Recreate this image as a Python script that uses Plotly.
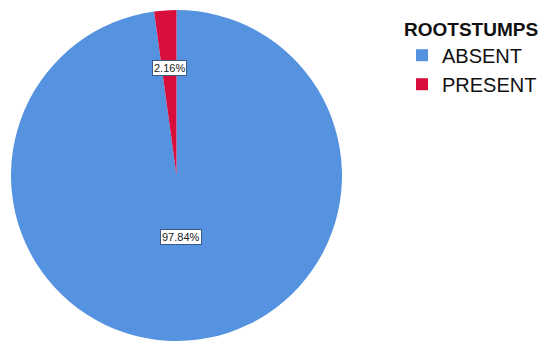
import math
import plotly.graph_objects as go

# ---- data ----
categories = ["ABSENT", "PRESENT"]
percentages = [97.84, 2.16]
legend_title = "ROOTSTUMPS"

# ---- style ----
colors = ["#5593E1", "#D80E3C"]
label_radius_frac = [0.37, 0.65]   # where each percentage box sits along its slice
W, H = 545, 342
dom_x = [8 / W, 345 / W]
dom_y = [1 - 341 / H, 1 - 10 / H]

fig = go.Figure(go.Pie(
    labels=categories,
    values=percentages,
    marker=dict(colors=colors, line=dict(width=0)),
    sort=False,
    direction="clockwise",
    rotation=0,
    textinfo="none",
    hoverinfo="label+percent",
    domain=dict(x=dom_x, y=dom_y),
))

# percentage boxes positioned at each slice's mid-angle
r_px = min((dom_x[1] - dom_x[0]) * W, (dom_y[1] - dom_y[0]) * H) / 2
cx = (dom_x[0] + dom_x[1]) / 2
cy = (dom_y[0] + dom_y[1]) / 2
total = sum(percentages)
cum = 0.0
annotations = []
for i, v in enumerate(percentages):
    mid = (cum + v / 2) / total * 2 * math.pi
    cum += v
    rr = r_px * label_radius_frac[i]
    ax_ = cx + rr * math.sin(mid) / W
    ay_ = cy + rr * math.cos(mid) / H
    annotations.append(dict(
        x=ax_, y=ay_, xref="paper", yref="paper",
        text=f"{v:.2f}%", showarrow=False,
        font=dict(family="Liberation Sans, Arial", size=11, color="#222222"),
        bgcolor="white", bordercolor="#3C5A85", borderwidth=1, borderpad=1,
        xanchor="center", yanchor="middle",
    ))

fig.update_layout(
    width=W, height=H,
    margin=dict(l=0, r=0, t=0, b=0),
    paper_bgcolor="white",
    plot_bgcolor="white",
    font=dict(family="Liberation Sans, Arial", color="#111111"),
    showlegend=True,
    legend=dict(
        title=dict(text=f"<b>{legend_title}</b>", font=dict(size=19), side="top"),
        font=dict(size=20),
        x=402 / W, y=1 - 11 / H, xanchor="left", yanchor="top",
        bgcolor="rgba(0,0,0,0)",
        traceorder="normal",
    ),
    annotations=annotations,
)

fig.write_html("out.html", config={"displayModeBar": False},
               post_script="document.body.style.margin='0';")
